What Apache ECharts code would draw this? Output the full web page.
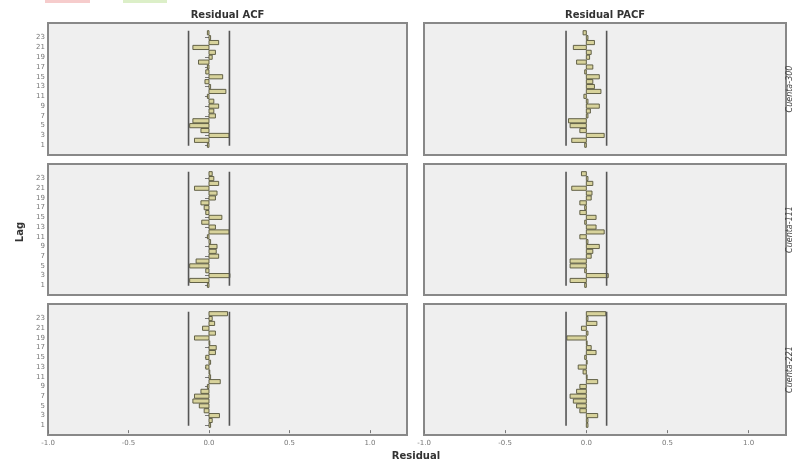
<!DOCTYPE html>
<html><head><meta charset="utf-8">
<script src="https://cdn.jsdelivr.net/npm/echarts@6/dist/echarts.min.js"></script>
<style>html,body{margin:0;padding:0;background:#fff}#c{width:795px;height:462px}</style>
</head><body><div id="c"></div><script>
const lags = [1,2,3,4,5,6,7,8,9,10,11,12,13,14,15,16,17,18,19,20,21,22,23,24];
const lagTicks = [1,3,5,7,9,11,13,15,17,19,21,23];
const xTicks = [-1,-0.5,0,0.5,1];
const colTitles = ['Residual ACF','Residual PACF'];
const rowLabels = ['Cuenta-300','Cuenta-111','Cuenta-221'];

const acfRow1  = [-0.01,-0.09,0.125,-0.05,-0.12,-0.10,0.04,0.03,0.06,0.03,-0.01,0.105,0.01,-0.025,0.085,-0.02,-0.01,-0.065,0.02,0.04,-0.10,0.06,0.01,-0.01];
const pacfRow1 = [-0.01,-0.09,0.11,-0.04,-0.10,-0.11,0.01,0.025,0.08,0.01,-0.015,0.09,0.05,0.04,0.08,-0.01,0.04,-0.06,0.02,0.03,-0.08,0.05,0.01,-0.02];
const acfRow2  = [-0.01,-0.12,0.13,-0.02,-0.12,-0.08,0.06,0.045,0.05,0.01,-0.01,0.125,0.04,-0.045,0.08,-0.02,-0.03,-0.05,0.04,0.05,-0.09,0.06,0.03,0.02];
const pacfRow2 = [-0.01,-0.10,0.135,-0.01,-0.10,-0.10,0.03,0.04,0.08,0.01,-0.04,0.11,0.06,-0.01,0.06,-0.04,-0.01,-0.04,0.03,0.035,-0.09,0.04,0.01,-0.03];
const acfRow3  = [0.01,0.02,0.065,-0.03,-0.06,-0.10,-0.09,-0.05,-0.01,0.07,0.01,0.005,-0.02,0.01,-0.02,0.04,0.045,0.005,-0.09,0.04,-0.04,0.035,0.02,0.115];
const pacfRow3 = [0.01,0.01,0.07,-0.04,-0.06,-0.08,-0.10,-0.06,-0.04,0.07,0.0,-0.02,-0.05,0.0,-0.01,0.06,0.03,0.0,-0.12,0.01,-0.03,0.065,0.01,0.12];
const confLimit = [0.127, 0.125];   // ACF, PACF
const confSpan = [0.9, 24.4];

const panels = [[acfRow1,pacfRow1],[acfRow2,pacfRow2],[acfRow3,pacfRow3]];

const colLeft = [48, 424], colW = [359, 362];
const rowTop = [23, 164, 304], rowH = [132, 131, 131];
const FONT = 'DejaVu Sans';

const grid = [], xAxis = [], yAxis = [], series = [];
let k = 0;
for (let r = 0; r < 3; r++) {
  for (let c = 0; c < 2; c++) {
    grid.push({left: colLeft[c], top: rowTop[r], width: colW[c], height: rowH[r], show: true,
      backgroundColor: '#efefef', borderColor: '#888888', borderWidth: 2});
    xAxis.push({type: 'value', gridIndex: k, min: -1, max: 1.23, show: r === 2,
      axisLine: {show: false}, splitLine: {show: false},
      axisTick: {show: true, length: 3, customValues: xTicks, lineStyle: {color: '#777'}},
      axisLabel: {customValues: xTicks, formatter: v => v.toFixed(1), fontSize: 7, color: '#777', margin: 5, fontFamily: FONT}});
    yAxis.push({type: 'value', gridIndex: k, min: -1, max: 26, show: c === 0,
      axisLine: {show: false}, splitLine: {show: false},
      axisTick: {show: true, length: 4, customValues: lagTicks, lineStyle: {color: '#777'}},
      axisLabel: {customValues: lagTicks, fontSize: 7, color: '#777', margin: 3, fontFamily: FONT}});
    const vals = panels[r][c];
    series.push({type: 'custom', xAxisIndex: k, yAxisIndex: k,
      data: vals.map((v, i) => [v, lags[i]]), encode: {x: 0, y: 1},
      renderItem: function (params, api) {
        const v = api.value(0), lag = api.value(1);
        const p0 = api.coord([0, lag]), p1 = api.coord([v, lag]);
        const h = api.size([0, 0.85])[1];
        return {type: 'rect', shape: {x: Math.min(p0[0], p1[0]), y: p0[1] - h / 2, width: Math.max(Math.abs(p1[0] - p0[0]), 0.8), height: h},
          style: {fill: '#d8d39c', stroke: '#55543a', lineWidth: 0.9}};
      }});
    const cl = confLimit[c];
    [-cl, cl].forEach(x => {
      series.push({type: 'line', xAxisIndex: k, yAxisIndex: k, symbol: 'none', silent: true,
        data: [[x, confSpan[0]], [x, confSpan[1]]],
        lineStyle: {color: '#555', width: 1.6}});
    });
    k++;
  }
}

const graphic = [
  {type: 'rect', left: 45, top: 0, shape: {width: 45, height: 3}, style: {fill: '#f6cccc'}},
  {type: 'rect', left: 123, top: 0, shape: {width: 44, height: 3}, style: {fill: '#dcefc8'}},
  {type: 'text', x: 20, y: 232, rotation: Math.PI / 2,
    style: {text: 'Lag', font: 'bold 10px "DejaVu Sans"', fill: '#333', align: 'center', verticalAlign: 'middle'}},
  {type: 'text', x: 416, y: 456,
    style: {text: 'Residual', font: 'bold 10px "DejaVu Sans"', fill: '#333', align: 'center', verticalAlign: 'middle'}}
];
for (let c = 0; c < 2; c++) {
  graphic.push({type: 'text', x: colLeft[c] + colW[c] / 2, y: 15,
    style: {text: colTitles[c], font: 'bold 10px "DejaVu Sans"', fill: '#333', align: 'center', verticalAlign: 'middle'}});
}
for (let r = 0; r < 3; r++) {
  graphic.push({type: 'text', x: 790, y: rowTop[r] + rowH[r] / 2, rotation: Math.PI / 2,
    style: {text: rowLabels[r], font: 'italic 8px "DejaVu Sans"', fill: '#444', align: 'center', verticalAlign: 'middle'}});
}

const chart = echarts.init(document.getElementById('c'), null, {renderer: 'canvas'});
chart.setOption({animation: false, grid, xAxis, yAxis, series, graphic});
</script></body></html>
